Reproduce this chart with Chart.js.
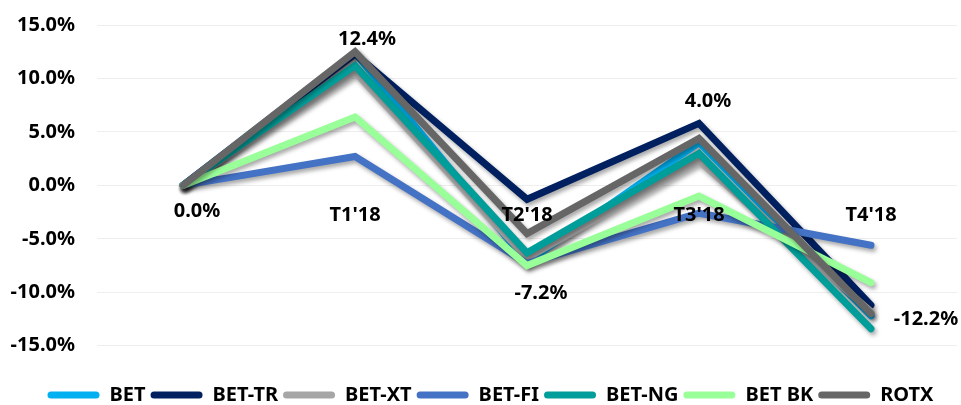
<!DOCTYPE html>
<html>
<head>
<meta charset="utf-8">
<script src="https://cdn.jsdelivr.net/npm/chart.js@4.4.1/dist/chart.umd.min.js"></script>
<style>
	html, body { margin: 0; padding: 0; background: #fff; }
	#wrap { width: 961px; height: 405px; }
</style>
</head>
<body>
<div id="wrap"><canvas id="indexChart"></canvas></div>
<script>
const quarters = ['', "T1'18", "T2'18", "T3'18", "T4'18"];
const yTicks = [-15, -10, -5, 0, 5, 10, 15];

const betValues = [0, 12.4, -7.2, 4.0, -12.2];
const betTrValues = [0, 12.3, -1.3, 5.8, -11.2];
const betXtValues = [0, 10.6, -6.8, 2.3, -11.8];
const betFiValues = [0, 2.7, -7.3, -2.6, -5.6];
const betNgValues = [0, 11.2, -6.3, 3.0, -13.4];
const betBkValues = [0, 6.4, -7.5, -1.0, -9.1];
const rotxValues = [0, 12.5, -4.5, 4.4, -12.0];

const FONT = "'Noto Sans', 'Open Sans', sans-serif";

const series = [
	{ label: 'BET', data: betValues, color: '#00B0F0' },
	{ label: 'BET-TR', data: betTrValues, color: '#002060' },
	{ label: 'BET-XT', data: betXtValues, color: '#A6A6A6' },
	{ label: 'BET-FI', data: betFiValues, color: '#4472C4' },
	{ label: 'BET-NG', data: betNgValues, color: '#009E9A' },
	{ label: 'BET BK', data: betBkValues, color: '#99FF99' },
	{ label: 'ROTX', data: rotxValues, color: '#666666' },
];

// soft drop shadow under each line, like the office chart
const shadowPlugin = {
	id: 'lineShadow',
	beforeDatasetDraw(chart) {
		const ctx = chart.ctx;
		ctx.save();
		ctx.shadowColor = 'rgba(0, 0, 0, 0.35)';
		ctx.shadowBlur = 4;
		ctx.shadowOffsetX = 2;
		ctx.shadowOffsetY = 3;
	},
	afterDatasetDraw(chart) {
		chart.ctx.restore();
	},
};

// legend sits lower and a bit right of where chart.js would put it
const legendShiftPlugin = {
	id: 'legendShift',
	afterInit(chart) {
		const legend = chart.legend;
		if (!legend) return;
		const fit = legend.fit;
		legend.fit = function () {
			fit.call(this);
			this.height -= 10;
		};
	},
	afterLayout(chart) {
		const legend = chart.legend;
		if (!legend) return;
		legend.left += 12;
		legend.right += 12;
	},
};

// value labels for the BET series
const labelOffsets = [[14, 26], [12, -14], [14, 31], [9, -41], [55, 3]];
const valueLabelPlugin = {
	id: 'valueLabels',
	afterDatasetsDraw(chart) {
		const ctx = chart.ctx;
		const meta = chart.getDatasetMeta(0);
		ctx.save();
		ctx.font = `bold 20px ${FONT}`;
		ctx.fillStyle = '#000';
		ctx.textAlign = 'center';
		ctx.textBaseline = 'middle';
		meta.data.forEach((pt, i) => {
			const [dx, dy] = labelOffsets[i];
			ctx.fillText(betValues[i].toFixed(1) + '%', pt.x + dx, pt.y + dy);
		});
		ctx.restore();
	},
};

new Chart(document.getElementById('indexChart').getContext('2d'), {
	type: 'line',
	data: {
		labels: quarters,
		datasets: series.map((s, i) => ({
			label: s.label,
			data: s.data,
			order: series.length - i,
			borderColor: s.color,
			backgroundColor: s.color,
			borderWidth: 7,
			borderCapStyle: 'round',
			borderJoinStyle: 'miter',
			pointRadius: 0,
			tension: 0,
			fill: false,
		})),
	},
	options: {
		responsive: true,
		maintainAspectRatio: false,
		animation: false,
		layout: { padding: { top: 25, right: 4, left: 0, bottom: 0 } },
		plugins: {
			legend: {
				position: 'bottom',
				labels: {
					boxWidth: 52,
					boxHeight: 7,
					padding: 5,
					color: '#000',
					font: { family: FONT, size: 20, weight: 'bold' },
					generateLabels(chart) {
						return chart.data.datasets.map((ds, i) => ({
							text: ds.label,
							fillStyle: ds.borderColor,
							strokeStyle: ds.borderColor,
							lineWidth: 0,
							borderRadius: 3.5,
							datasetIndex: i,
						}));
					},
					useBorderRadius: true,
					borderRadius: 3.5,
				},
			},
			tooltip: { enabled: false },
		},
		scales: {
			x: {
				position: { y: 0 },
				offset: true,
				grid: { display: false },
				border: { display: false },
				ticks: {
					z: 1,
					color: '#000',
					padding: 10,
					maxRotation: 0,
					font: { family: FONT, size: 20, weight: 'bold' },
				},
			},
			y: {
				min: -18.2,
				max: 15,
				afterBuildTicks(scale) {
					scale.ticks = yTicks.map((v) => ({ value: v }));
				},
				afterFit(scale) {
					scale.width = 97;
					scale.paddingTop = 12;
					scale.paddingBottom = 0;
				},
				grid: { color: '#eeeeee', lineWidth: 1, drawTicks: false },
				border: { display: false },
				ticks: {
					color: '#000',
					padding: 22,
					font: { family: FONT, size: 20, weight: 'bold' },
					callback: (v) => v.toFixed(1) + '%',
				},
			},
		},
	},
	plugins: [shadowPlugin, legendShiftPlugin, valueLabelPlugin],
});
</script>
</body>
</html>
